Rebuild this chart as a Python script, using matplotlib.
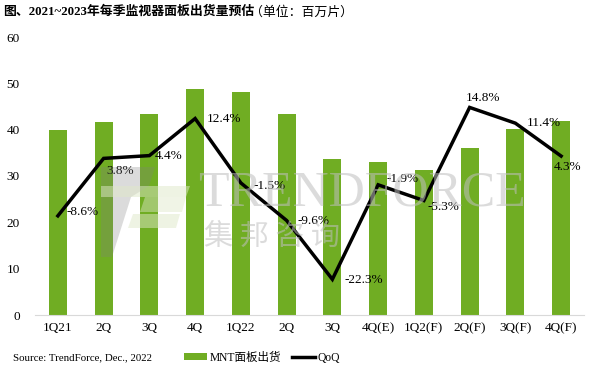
import numpy as np
import matplotlib
matplotlib.use("Agg")
import matplotlib.pyplot as plt
from matplotlib.patches import Polygon, Patch
from matplotlib.lines import Line2D

plt.rcParams["font.family"] = ["Liberation Serif", "Noto Sans CJK SC"]

quarters = ["1Q21", "2Q", "3Q", "4Q", "1Q22", "2Q", "3Q", "4Q(E)",
            "1Q2(F)", "2Q(F)", "3Q(F)", "4Q(F)"]
shipments = [39.9, 41.7, 43.4, 48.8, 48.2, 43.4, 33.7, 33.0, 31.3, 36.1, 40.2, 41.9]
qoq = [-8.6, 3.8, 4.4, 12.4, -1.5, -9.6, -22.3, -1.9, -5.3, 14.8, 11.4, 4.3]

BAR_COLOR = "#70ad23"
# label offsets in pixels (dx, dy) relative to each line point
label_off = [(9, 4), (3, -13), (5, 0), (12, 0), (13, -3), (11, -1),
             (12, -1), (8, 6), (4, -6), (-4, 9), (11, 0), (-7, -11)]

W, H = 592, 373
fig = plt.figure(figsize=(W / 100, H / 100), dpi=100)
fig.patch.set_facecolor("white")

ax = fig.add_axes([35 / W, 58 / H, 549 / W, 278 / H])
x = np.arange(len(quarters))
ax.bar(x, shipments, 0.39, color=BAR_COLOR, zorder=2)
ax.set_xlim(-0.5, len(quarters) - 0.5)
ax.set_ylim(0, 60)
ax.set_yticks(range(0, 61, 10))
ax.set_xticks(x)
ax.set_xticklabels(quarters, fontsize=9.5)
ax.tick_params(axis="y", labelsize=9.5, length=0, pad=11)
ax.tick_params(axis="x", length=0, pad=5)
for s in ["top", "right", "left"]:
    ax.spines[s].set_visible(False)
ax.spines["bottom"].set_color("#d9d9d9")

ax2 = ax.twinx()
ax2.set_ylim(-30, 30)
ax2.plot(x, qoq, color="black", lw=2.5, zorder=4, solid_joinstyle="miter")
ax2.axis("off")
for xi, v, (dx, dy) in zip(x, qoq, label_off):
    ax2.annotate(f"{v:.1f}%", (xi, v), xytext=(dx, dy), textcoords="offset pixels",
                 ha="left", va="center", fontsize=9.5, zorder=5)

# watermark
fig.text(198 / W, 1 - 193 / H, "TRENDFORCE", fontsize=36, color="#bfbfbf",
         alpha=0.55, ha="left", va="center", family="Liberation Serif", zorder=3)
fig.text(204 / W, 1 - 237 / H, "集 邦 咨 询", fontsize=21, color="#bfbfbf",
         alpha=0.55, ha="left", va="center", family="Noto Sans CJK SC", zorder=3)
gray = [(101, 167), (155, 167), (149, 186), (131, 197), (112, 257), (101, 257)]
green1 = [(101, 186), (190, 186), (186, 197), (101, 197)]
green2 = [(145, 197), (186, 197), (182, 212), (140, 212)]
green3 = [(133, 214), (180, 214), (176, 228), (128, 228)]
for pts, col, a in [(gray, "#7f7f7f", 0.28), (green1, "#dfe8c8", 0.5),
                    (green2, "#dfe8c8", 0.45), (green3, "#dfe8c8", 0.5)]:
    fig.patches.append(Polygon([(px / W, 1 - py / H) for px, py in pts], closed=True,
                               transform=fig.transFigure, facecolor=col,
                               edgecolor="none", alpha=a, zorder=3))

fig.text(3 / W, 1 - 12 / H, "图、2021~2023年每季监视器面板出货量预估", fontsize=9.3,
         fontweight="bold", ha="left", va="center",
         family=["Liberation Serif", "Noto Sans CJK SC"])
fig.text(250 / W, 1 - 12 / H, "（单位：百万片）", fontsize=9.3, ha="left", va="center",
         family=["Liberation Serif", "Noto Sans CJK SC"])
fig.text(13 / W, 1 - 358 / H, "Source: TrendForce, Dec., 2022", fontsize=7.8,
         ha="left", va="center")

handles = [Patch(facecolor=BAR_COLOR, label="MNT面板出货"),
           Line2D([0], [0], color="black", lw=2.5, label="QoQ")]
fig.legend(handles=handles, loc="center left", bbox_to_anchor=(184 / W, 1 - 358 / H),
           ncol=2, frameon=False, fontsize=8.3, handlelength=2.0, handleheight=0.55,
           handletextpad=0.2, columnspacing=1.0, borderpad=0, borderaxespad=0)

fig.savefig("out.png", dpi=100)
